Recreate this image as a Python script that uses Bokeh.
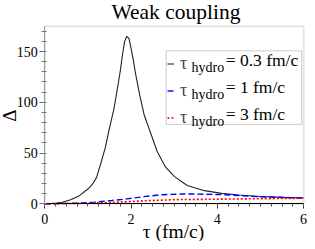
import math
from bokeh.plotting import figure
from bokeh.models import (Range1d, Label, BoxAnnotation, Legend, LegendItem,
                          SingleIntervalTicker)
from bokeh.embed import file_html
from bokeh.resources import INLINE

# ---- data ----
tau_03 = [0, 0.2, 0.4, 0.6, 0.8, 1.0, 1.1, 1.2, 1.3, 1.4, 1.5, 1.6, 1.7, 1.75,
          1.8, 1.85, 1.9, 1.95, 2.0, 2.05, 2.1, 2.2, 2.3, 2.4, 2.5, 2.6, 2.8,
          3.0, 3.3, 3.7, 4.1, 4.5, 5.0, 5.5, 6.0]
delta_03 = [0, 0.3, 1.5, 4, 8, 14.5, 19, 26, 40, 55, 75, 93, 118, 131,
            147, 160, 165, 163, 153, 142, 129, 107, 88, 76, 64, 52, 36,
            27, 18, 12.9, 10.2, 8.7, 7.1, 6.3, 5.7]
tau_1 = [0, 0.4, 0.8, 1.15, 1.55, 1.9, 2.3, 2.7, 3.2, 3.45, 4.2, 4.9, 5.7, 6.0]
delta_1 = [0, 0.2, 0.7, 1.6, 3.2, 4.8, 7.0, 8.9, 9.6, 9.6, 8.9, 7.0, 6.0, 5.7]
tau_3 = [0, 0.8, 1.55, 2.3, 3.05, 3.8, 4.55, 5.3, 6.0]
delta_3 = [0, 0.4, 1.2, 2.9, 4.1, 4.4, 4.8, 5.1, 5.4]

x_limits = (0, 6)
y_limits = (0, 175)
x_ticks_interval = 2
y_ticks_interval = 50
title_text = "Weak coupling"
x_label = "τ (fm/c)"
y_label = "Δ"
legend_main = "τ"
legend_sub = "hydro"
legend_values = ["= 0.3 fm/c", "= 1 fm/c", "= 3 fm/c"]
colors = ["#222222", "blue", "red"]

FONT = "Liberation Serif"
MID = 0.3   # em offset from baseline to the 'middle' anchor

# ---- layout geometry (figure pixels; reference layout scaled to fit) ----
W, H = 307, 241
KX, KY = W / 315, H / 249


def fx(v):
    return v * KX


def fy(v):
    return v * KY


box_l, box_r, box_t, box_b = fx(45.5), fx(311.0), fy(26.5), fy(210.0)
X0, X1 = x_limits
Y0, Y1 = y_limits
sx = (box_r - box_l) / (X1 - X0)
sy = (box_b - box_t) / (Y1 - Y0)


def px2x(px):
    return X0 + (px - box_l) / sx


def py2y(py):
    return Y0 + (box_b - py) / sy


p = figure(width=W, height=H,
           x_range=Range1d(px2x(0), px2x(W)),
           y_range=Range1d(py2y(H), py2y(0)),
           output_backend="svg", toolbar_location=None,
           min_border=0, x_axis_location="below", y_axis_location="left")
p.grid.visible = False
p.outline_line_color = None
p.background_fill_color = "white"
p.border_fill_color = "white"

# plot box
p.add_layout(BoxAnnotation(left=X0, right=X1, bottom=Y0, top=Y1,
                           fill_alpha=0, line_color="#aaaaaa", line_width=2,
                           level="underlay"))

r1 = p.line(tau_03, delta_03, line_color=colors[0], line_width=1.1)
r2 = p.line(tau_1, delta_1, line_color=colors[1], line_width=1.4, line_dash="6 3")
r3 = p.line(tau_3, delta_3, line_color=colors[2], line_width=1.6, line_dash="2 2")

# axes fixed at the plot box edges
xa, ya = p.xaxis[0], p.yaxis[0]
xa.fixed_location = Y0
ya.fixed_location = X0
xa.bounds = x_limits
ya.bounds = y_limits
xa.ticker = SingleIntervalTicker(interval=x_ticks_interval, num_minor_ticks=8)
ya.ticker = SingleIntervalTicker(interval=y_ticks_interval, num_minor_ticks=5)
for ax in (xa, ya):
    ax.major_label_text_font = FONT
    ax.major_label_text_font_size = "14px"
    ax.major_label_text_color = "black"
    ax.major_tick_in = 0
    ax.major_tick_out = 5
    ax.minor_tick_in = 0
    ax.minor_tick_out = 3
xa.axis_line_color = "black"
xa.major_tick_line_color = "#333333"
xa.minor_tick_line_color = "#555555"
xa.major_label_standoff = 5
ya.axis_line_color = "#999999"
ya.major_tick_line_color = "#666666"
ya.minor_tick_line_color = "#777777"
ya.minor_tick_in = 2
ya.major_label_standoff = 2


def label(x_px, base_px, text, size, align="left", angle=0.0):
    return Label(x=px2x(x_px), y=py2y(base_px - MID * size), text=text,
                 text_font=FONT, text_font_size=f"{size}px",
                 text_align=align, text_baseline="middle", angle=angle,
                 text_color="black")


# title and axis labels
p.add_layout(label(fx(180), fy(19), title_text, 21.5, "center"))
p.add_layout(label(fx(177.5), 237, x_label, 19.5, "center"))
p.add_layout(Label(x=px2x(fx(9.5)), y=py2y(fy(119)), text=y_label,
                   text_font=FONT, text_font_size="19px", text_align="center",
                   text_baseline="middle", angle=math.pi / 2,
                   text_color="black"))

# legend
glyph_h = 27
lab_h = 19
pitch = glyph_h
lsize = 18
row1_mid = 59.5          # where the label's middle anchor sits
leg_top = row1_mid - lab_h / 2
leg_h = 3 * glyph_h

p.add_layout(BoxAnnotation(left=px2x(fx(170)), right=px2x(fx(309)),
                           top=py2y(fy(52)), bottom=py2y(fy(128)),
                           fill_color="white", fill_alpha=1,
                           line_color="#555555", line_width=1,
                           level="annotation"))

legend = Legend(items=[LegendItem(label=legend_main, renderers=[r])
                       for r in (r1, r2, r3)],
                location=(int(round(fx(171.5))), int(round(H - (leg_top + leg_h)))),
                padding=0, spacing=0, margin=0,
                glyph_width=7, glyph_height=glyph_h, label_height=lab_h,
                label_standoff=6, label_text_font=FONT,
                label_text_font_size=f"{lsize}px", label_text_baseline="middle",
                border_line_alpha=0, background_fill_alpha=0)
p.add_layout(legend)

for i, txt in enumerate(legend_values):
    base = row1_mid + i * pitch + MID * lsize
    p.add_layout(label(fx(196), base + 6.5, legend_sub, 14))
    p.add_layout(label(fx(231), base, txt, 17.5))

open("out.html", "w").write(file_html(p, INLINE))
